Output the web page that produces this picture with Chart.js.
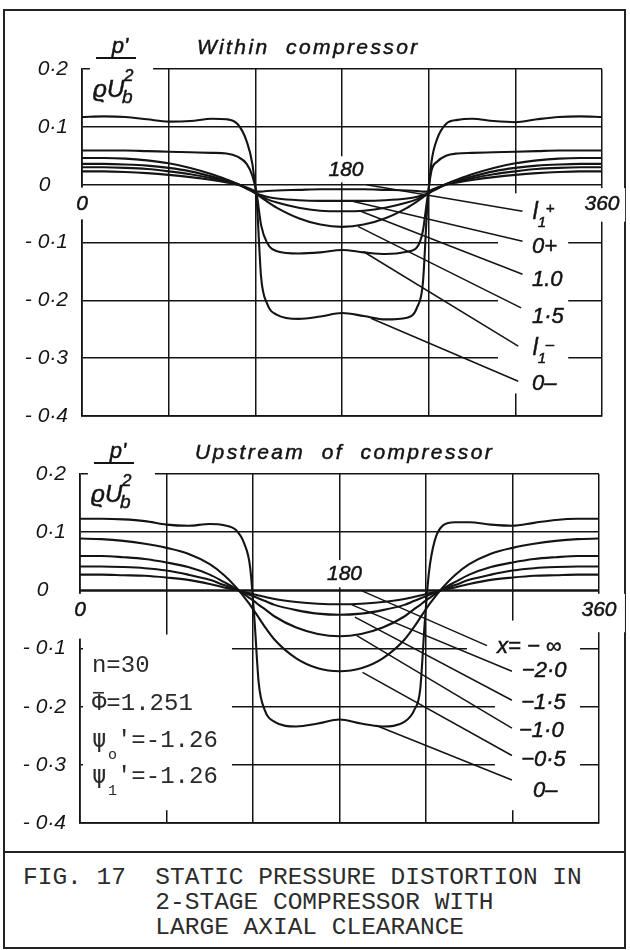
<!DOCTYPE html>
<html>
<head>
<meta charset="utf-8">
<script src="https://cdn.jsdelivr.net/npm/chart.js@4.4.1/dist/chart.umd.min.js"></script>
<style>
  html, body { margin: 0; padding: 0; background: #fff; }
  #page { position: relative; width: 630px; height: 950px; overflow: hidden; background: #fff; }
  #frame { position: absolute; left: 3px; top: 9px; width: 619px; height: 936px; border: 2px solid #222; }
  #rule { position: absolute; left: 3px; top: 851px; width: 623px; border-top: 2.5px solid #222; }
  canvas { position: absolute; left: 0; }
  #within { top: 0; }
  #upstream { top: 430px; }
  #caption { position: absolute; left: 23px; top: 865px; font: 24.5px 'Liberation Mono', monospace;
             line-height: 25px; color: #2c2c2c; white-space: pre; }
</style>
</head>
<body>
<div id="page">
  <div id="frame"></div>
  <div id="rule"></div>
  <canvas id="within" width="630" height="425"></canvas>
  <canvas id="upstream" width="630" height="400"></canvas>
  <div id="caption">FIG. 17  STATIC PRESSURE DISTORTION IN
         2-STAGE COMPRESSOR WITH
         LARGE AXIAL CLEARANCE</div>
</div>
<script>
// circumferential stations (deg), closer together around the steps at 120 and 240
const angles = [0, 15, 30, 45, 60, 75, 90, 100, 108, 114, 118, 121, 124, 128, 135, 150, 165, 180,
                195, 210, 225, 232, 236, 239, 242, 246, 252, 260, 270, 285, 300, 315, 330, 345, 360];

const xGrid = [0, 60, 120, 180, 240, 300, 360];
const yGrid = [-0.4, -0.3, -0.2, -0.1, 0, 0.1, 0.2];
const xTickLabels = ['0', '180', '360'];
const xTickValues = [0, 180, 360];

// ---- within compressor: p' / rho Ub^2 ----
const withinNames = ['l1+', '0+', '1.0', '1·5', 'l1-', '0–'];
const withinL1Plus = [0.023, 0.023, 0.022, 0.020, 0.017, 0.013, 0.008, 0.004, 0.000, -0.005, -0.009, -0.012, -0.012, -0.011, -0.010, -0.009, -0.008, -0.008,
                      -0.008, -0.009, -0.010, -0.011, -0.012, -0.012, -0.009, -0.005, 0.000, 0.004, 0.008, 0.013, 0.017, 0.020, 0.022, 0.023, 0.023];
const within0Plus = [0.030, 0.030, 0.029, 0.027, 0.023, 0.018, 0.011, 0.005, 0.000, -0.006, -0.010, -0.015, -0.018, -0.021, -0.024, -0.027, -0.028, -0.028,
                     -0.028, -0.027, -0.024, -0.021, -0.018, -0.015, -0.010, -0.006, 0.000, 0.005, 0.011, 0.018, 0.023, 0.027, 0.029, 0.030, 0.030];
const within10 = [0.036, 0.036, 0.035, 0.033, 0.029, 0.023, 0.014, 0.007, 0.001, -0.006, -0.011, -0.016, -0.020, -0.025, -0.031, -0.040, -0.045, -0.046,
                  -0.045, -0.040, -0.031, -0.025, -0.020, -0.016, -0.011, -0.006, 0.001, 0.007, 0.014, 0.023, 0.029, 0.033, 0.035, 0.036, 0.036];
const within15 = [0.046, 0.046, 0.045, 0.042, 0.037, 0.029, 0.018, 0.009, 0.001, -0.007, -0.012, -0.017, -0.022, -0.029, -0.040, -0.058, -0.069, -0.073,
                  -0.069, -0.058, -0.040, -0.029, -0.022, -0.017, -0.012, -0.007, 0.001, 0.009, 0.018, 0.029, 0.037, 0.042, 0.045, 0.046, 0.046];
const withinL1Minus = [0.059, 0.059, 0.059, 0.058, 0.057, 0.056, 0.055, 0.054, 0.048, 0.036, 0.015, -0.017, -0.070, -0.100, -0.115, -0.119, -0.117, -0.113,
                       -0.117, -0.120, -0.116, -0.108, -0.080, -0.025, 0.025, 0.040, 0.050, 0.054, 0.055, 0.056, 0.057, 0.058, 0.059, 0.059, 0.059];
const within0Minus = [0.117, 0.118, 0.117, 0.113, 0.109, 0.110, 0.114, 0.113, 0.104, 0.075, 0.035, -0.030, -0.160, -0.205, -0.225, -0.232, -0.228, -0.222,
                      -0.227, -0.233, -0.230, -0.212, -0.170, -0.040, 0.040, 0.080, 0.105, 0.112, 0.114, 0.110, 0.108, 0.113, 0.117, 0.118, 0.117];

// ---- upstream of compressor ----
const upstreamNames = ['x= − ∞', '−2·0', '−1·5', '−1·0', '−0·5', '0–'];
const upstreamInf = [0, 0, 0, 0, 0, 0, 0, 0, 0, 0, 0, 0, 0, 0, 0, 0, 0, 0,
                     0, 0, 0, 0, 0, 0, 0, 0, 0, 0, 0, 0, 0, 0, 0, 0, 0];
const upstreamM20 = [0.027, 0.027, 0.026, 0.025, 0.022, 0.018, 0.011, 0.005, 0.001, -0.003, -0.005, -0.007, -0.009, -0.011, -0.015, -0.020, -0.023, -0.024,
                     -0.023, -0.020, -0.015, -0.011, -0.009, -0.007, -0.005, -0.003, 0.001, 0.005, 0.011, 0.018, 0.022, 0.025, 0.026, 0.027, 0.027];
const upstreamM15 = [0.041, 0.041, 0.040, 0.038, 0.034, 0.027, 0.018, 0.009, 0.002, -0.004, -0.008, -0.011, -0.014, -0.018, -0.025, -0.034, -0.040, -0.042,
                     -0.040, -0.034, -0.025, -0.018, -0.014, -0.011, -0.008, -0.004, 0.002, 0.009, 0.018, 0.027, 0.034, 0.038, 0.040, 0.041, 0.041];
const upstreamM10 = [0.059, 0.059, 0.057, 0.054, 0.048, 0.040, 0.027, 0.014, 0.003, -0.007, -0.014, -0.019, -0.025, -0.032, -0.045, -0.064, -0.075, -0.079,
                     -0.075, -0.064, -0.045, -0.032, -0.025, -0.019, -0.014, -0.007, 0.003, 0.014, 0.027, 0.040, 0.048, 0.054, 0.057, 0.059, 0.059];
const upstreamM05 = [0.089, 0.088, 0.085, 0.080, 0.073, 0.063, 0.045, 0.026, 0.006, -0.012, -0.025, -0.036, -0.047, -0.062, -0.085, -0.117, -0.134, -0.139,
                     -0.134, -0.117, -0.085, -0.062, -0.047, -0.036, -0.025, -0.012, 0.006, 0.026, 0.045, 0.063, 0.073, 0.080, 0.085, 0.088, 0.089];
const upstream0Minus = [0.123, 0.123, 0.122, 0.119, 0.113, 0.111, 0.114, 0.112, 0.104, 0.080, 0.040, -0.050, -0.160, -0.205, -0.226, -0.234, -0.229, -0.222,
                        -0.229, -0.234, -0.226, -0.205, -0.170, -0.060, 0.030, 0.085, 0.112, 0.117, 0.117, 0.113, 0.111, 0.116, 0.121, 0.123, 0.123];

const upstreamParams = ['n=30', 'Φ=1.251', "'=-1.26", "'=-1.26"];

const INK = '#141414';
const ital = s => `italic ${s}px 'Liberation Sans', 'DejaVu Sans', sans-serif`;

function series(values) {
  return angles.map((a, i) => ({ x: a, y: values[i] }));
}

function buildDatasets(curves, from, to) {
  const sets = curves.map(v => ({
    data: series(v), borderColor: INK, borderWidth: 2.1, pointRadius: 0,
    cubicInterpolationMode: 'monotone', fill: false
  }));
  // leader lines from each curve out to its label
  from.forEach((p, i) => sets.push({
    data: [{ x: p[0], y: p[1] }, { x: to[i][0], y: to[i][1] }],
    borderColor: INK, borderWidth: 1.5, pointRadius: 0, tension: 0, fill: false
  }));
  return sets;
}

// lettering is inked a little heavier than the plain font
function ink(ctx, text, X, Y) {
  ctx.fillText(text, X, Y);
  ctx.lineWidth = 0.5;
  ctx.strokeText(text, X, Y);
}

function drawName(ctx, name, X, Y) {
  ctx.textAlign = 'left';
  ctx.textBaseline = 'middle';
  if (name.startsWith('l1')) {
    ctx.font = ital(23);
    ink(ctx, 'l', X, Y - 1);
    ctx.font = ital(15);
    ink(ctx, '1', X + 5, Y + 9);
    ink(ctx, name.endsWith('+') ? '+' : '–', X + 13, Y - 5);
  } else {
    ctx.font = ital(22);
    ink(ctx, name, X, Y);
  }
}

function figureText(cfg) {
  return {
    id: 'figureText',
    beforeDatasetsDraw(chart) {
      // white-out the grid behind lettering
      const { ctx, scales: { x, y } } = chart;
      ctx.save();
      ctx.fillStyle = '#fff';
      cfg.masks.forEach(([a0, a1, v0, v1]) => {
        const X0 = x.getPixelForValue(a0), X1 = x.getPixelForValue(a1);
        const Y0 = y.getPixelForValue(v0), Y1 = y.getPixelForValue(v1);
        ctx.fillRect(X0, Y0, X1 - X0, Y1 - Y0);
      });
      ctx.restore();
    },
    afterDatasetsDraw(chart) {
      const { ctx, chartArea: area, scales: { x, y } } = chart;
      ctx.save();
      ctx.fillStyle = INK;
      ctx.strokeStyle = INK;

      // title
      ctx.font = ital(21);
      ctx.letterSpacing = '2.4px';
      ctx.textAlign = 'left';
      ctx.textBaseline = 'middle';
      ink(ctx, cfg.title, area.left + 115, area.top - 21);
      ctx.letterSpacing = '0px';

      // ordinate  p' / rho Ub^2
      ctx.textAlign = 'center';
      ctx.font = ital(22);
      ink(ctx, "p'", area.left + 38, area.top - 22);
      ctx.lineWidth = 2;
      ctx.beginPath();
      ctx.moveTo(area.left + 14, area.top - 11);
      ctx.lineTo(area.left + 54, area.top - 11);
      ctx.stroke();
      ctx.textAlign = 'left';
      ctx.textBaseline = 'alphabetic';
      ctx.font = ital(24);
      ink(ctx, 'ϱU', area.left + 11, area.top + 28);
      ctx.font = ital(17);
      ink(ctx, '2', area.left + 42, area.top + 12);
      ctx.font = ital(19);
      ink(ctx, 'b', area.left + 40, area.top + 34);

      // angle labels on the zero line
      ctx.font = ital(21);
      ctx.textAlign = 'center';
      ctx.textBaseline = 'middle';
      xTickValues.forEach((a, i) => {
        const [dx, dy] = cfg.xTickOffsets[i];
        ink(ctx, xTickLabels[i], x.getPixelForValue(a) + dx, y.getPixelForValue(0) + dy);
      });

      // curve labels
      cfg.names.forEach((n, i) => {
        const [a, v] = cfg.labelAt[i];
        drawName(ctx, n, x.getPixelForValue(a), y.getPixelForValue(v));
      });

      // operating point block
      if (cfg.params) {
        const X = x.getPixelForValue(cfg.paramsAt[0]);
        const rows = cfg.paramsAt[1].map(v => y.getPixelForValue(v));
        ctx.fillStyle = '#2a2a2a';
        ctx.strokeStyle = '#2a2a2a';
        ctx.textAlign = 'left';
        ctx.textBaseline = 'middle';
        ctx.font = "24px 'Liberation Mono', monospace";
        ctx.fillText(cfg.params[0], X, rows[0]);
        ctx.fillText(cfg.params[1], X, rows[1]);
        ctx.lineWidth = 1.6;
        ctx.beginPath();
        ctx.moveTo(X + 1, rows[1] - 11);
        ctx.lineTo(X + 12, rows[1] - 11);
        ctx.stroke();
        ['o', '1'].forEach((sub, k) => {
          const Y = rows[2 + k];
          ctx.font = "24px 'DejaVu Sans Mono', monospace";
          ctx.fillText('ψ', X, Y);
          ctx.font = "15px 'Liberation Mono', monospace";
          ctx.fillText(sub, X + 16, Y + 15);
          ctx.font = "24px 'Liberation Mono', monospace";
          ctx.fillText(cfg.params[2 + k], X + 25, Y);
        });
      }
      ctx.restore();
    }
  };
}

function tickText(v) {
  const r = Math.round(v * 10) / 10;
  if (r === 0) return '0   ';
  const s = Math.abs(r).toFixed(1).replace('.', '·');
  return r < 0 ? '- ' + s : s;
}

function makeChart(id, datasets, padding, cfg) {
  return new Chart(document.getElementById(id), {
    type: 'line',
    data: { datasets },
    options: {
      responsive: false,
      animation: false,
      devicePixelRatio: 1,
      layout: { padding },
      plugins: { legend: { display: false }, tooltip: { enabled: false } },
      scales: {
        x: {
          type: 'linear', min: 0, max: 360,
          afterBuildTicks: s => { s.ticks = xGrid.map(v => ({ value: v })); },
          afterFit: s => { s.height = 0; s.paddingLeft = 0; s.paddingRight = 0; },
          ticks: { display: false },
          grid: { color: INK, lineWidth: 1.5, drawTicks: false },
          border: { color: INK, width: 1.7 }
        },
        y: {
          type: 'linear', min: -0.4, max: 0.2,
          afterBuildTicks: s => { s.ticks = yGrid.map(v => ({ value: v })); },
          afterFit: s => { s.width = 60; s.paddingTop = 0; s.paddingBottom = 0; },
          ticks: {
            autoSkip: false, padding: 14, color: INK,
            font: { family: "'Liberation Sans', sans-serif", style: 'italic', size: 21 },
            callback: tickText
          },
          grid: { color: INK, lineWidth: 1.5, drawTicks: false },
          border: { color: INK, width: 1.7 }
        }
      }
    },
    plugins: [figureText(cfg)]
  });
}

makeChart('within',
  buildDatasets(
    [withinL1Plus, within0Plus, within10, within15, withinL1Minus, within0Minus],
    [[197, 0.000], [188, -0.029], [193, -0.046], [191, -0.072], [195, -0.116], [200, -0.231]],
    [[305, -0.046], [305, -0.098], [305, -0.155], [304, -0.213], [302, -0.279], [302, -0.340]]),
  { left: 22, right: 28, top: 69, bottom: 9 },
  {
    title: 'Within  compressor',
    names: withinNames,
    labelAt: [[312, -0.050], [311.5, -0.107], [311.5, -0.164], [311.5, -0.228], [312, -0.286], [311.5, -0.345]],
    xTickOffsets: [[0, 19], [4, -15], [0, 19]],
    masks: [[5.5, 49.2, 0.215, 0.137], [168.3, 196, 0.049, 0.004], [-8.3, 6.9, -0.005, -0.060],
            [343.6, 376, -0.006, -0.064], [288, 336.6, -0.015, -0.361]]
  });

makeChart('upstream',
  buildDatasets(
    [upstreamInf, upstreamM20, upstreamM15, upstreamM10, upstreamM05, upstream0Minus],
    [[195.6, -0.001], [188.6, -0.025], [190.7, -0.046], [192, -0.078], [196, -0.141], [205, -0.232]],
    [[282.3, -0.095], [299.6, -0.139], [299.6, -0.189], [299.6, -0.237], [299.6, -0.284], [299.6, -0.326]]),
  { left: 20, right: 31, top: 44, bottom: 7 },
  {
    title: 'Upstream  of  compressor',
    names: upstreamNames,
    labelAt: [[289.2, -0.097], [306.5, -0.139], [306, -0.194], [304.5, -0.242], [306, -0.292], [314.2, -0.344]],
    xTickOffsets: [[0, 20], [5, -16], [0, 20]],
    masks: [[5.5, 52, 0.215, 0.135], [170, 197.7, 0.052, 0.005], [-8.3, 6.9, -0.006, -0.083],
            [343, 378, -0.006, -0.072], [2.1, 105.4, -0.076, -0.378], [287.8, 346.8, -0.052, -0.378],
            [268.4, 287.8, -0.083, -0.117]],
    params: upstreamParams,
    paramsAt: [8.3, [-0.129, -0.195, -0.258, -0.320]]
  });
</script>
</body>
</html>
